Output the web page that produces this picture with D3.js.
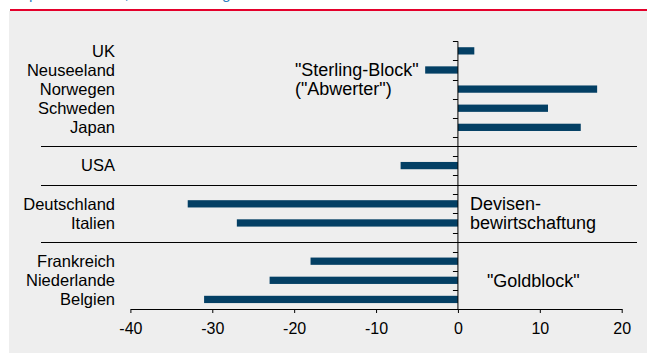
<!DOCTYPE html>
<html>
<head>
<meta charset="utf-8">
<script src="https://cdn.jsdelivr.net/npm/d3@7"></script>
<style>
  body { margin: 0; background: #fff; }
  text { font-family: "Liberation Sans", Arial, sans-serif; }
</style>
</head>
<body>
<div id="chart"></div>
<script>
// Categories (gapN entries are the empty rows between the groups)
var countries = ["UK", "Neuseeland", "Norwegen", "Schweden", "Japan", "gap1",
  "USA", "gap2", "Deutschland", "Italien", "gap3", "Frankreich", "Niederlande", "Belgien"];
var values = [2, -4, 17, 11, 15, null, -7, null, -33, -27, null, -18, -23, -31];
var gaps = ["gap1", "gap2", "gap3"];
var xTicks = [-40, -30, -20, -10, 0, 10, 20];

var svgWidth = 647;
var svgHeight = 353;

var svg = d3.select("#chart")
  .append("svg")
  .attr("width", svgWidth)
  .attr("height", svgHeight);

// grey panel + red rule on top
svg.append("rect")
  .attr("x", 9).attr("y", 11)
  .attr("width", svgWidth - 9).attr("height", svgHeight - 11)
  .attr("fill", "#eeeeee");

svg.append("rect")
  .attr("x", 10).attr("y", 9)
  .attr("width", svgWidth - 10).attr("height", 2)
  .attr("fill", "#e4002b");

// title, mostly cut off at the top edge (as in the original)
svg.append("text")
  .attr("x", 10).attr("y", -1.5)
  .attr("font-size", 15.5)
  .attr("fill", "#2f7fc1")
  .text("Kapitalkontrollen, Kursänderung 1929–1936 in %");

var xScale = d3.scaleLinear()
  .domain([-40, 20])
  .range([130.4, 621.7]);

var yScale = d3.scaleBand()
  .domain(countries)
  .range([41.3, 309])
  .paddingInner(0.62)
  .paddingOuter(0.31);

var band = (yScale.range()[1] - yScale.range()[0]) / countries.length;
function center(c) { return yScale(c) + yScale.bandwidth() / 2; }

var data = countries.map(function (c, i) { return { name: c, value: values[i] }; });

// group separators
svg.selectAll(".sep")
  .data(gaps)
  .enter()
  .append("line")
  .attr("x1", 41).attr("x2", 637)
  .attr("y1", function (d) { return Math.round(center(d)) + 0.5; })
  .attr("y2", function (d) { return Math.round(center(d)) + 0.5; })
  .attr("stroke", "#000")
  .attr("stroke-width", 1.2);

// bars
svg.selectAll(".bar")
  .data(data.filter(function (d) { return d.value !== null; }))
  .enter()
  .append("rect")
  .attr("x", function (d) { return xScale(Math.min(0, d.value)); })
  .attr("y", function (d) { return yScale(d.name); })
  .attr("width", function (d) { return Math.abs(xScale(d.value) - xScale(0)); })
  .attr("height", yScale.bandwidth())
  .attr("fill", "#033f64");

// x axis
var xAxis = svg.append("g")
  .attr("transform", "translate(0,309)")
  .call(d3.axisBottom(xScale)
    .tickValues(xTicks)
    .tickFormat(function (d) { return String(d); })
    .tickSize(4).tickPadding(10).tickSizeOuter(0));
xAxis.select(".domain").attr("stroke", "#000");
xAxis.selectAll("line").attr("stroke", "#000");
xAxis.selectAll("text")
  .attr("font-size", 16)
  .attr("font-family", "Liberation Sans, Arial, sans-serif")
  .attr("fill", "#000");

// y axis line at zero with ticks between categories
var yTop = yScale.range()[0];
svg.append("line")
  .attr("x1", xScale(0)).attr("x2", xScale(0))
  .attr("y1", yTop).attr("y2", 309)
  .attr("stroke", "#000");

svg.selectAll(".ytick")
  .data(d3.range(countries.length))
  .enter()
  .append("line")
  .attr("x1", xScale(0) - 5).attr("x2", xScale(0))
  .attr("y1", function (i) { return Math.round(yTop + i * band) + 0.5; })
  .attr("y2", function (i) { return Math.round(yTop + i * band) + 0.5; })
  .attr("stroke", "#000");

// category labels
svg.selectAll(".ylabel")
  .data(countries.filter(function (c) { return gaps.indexOf(c) < 0; }))
  .enter()
  .append("text")
  .attr("x", 115)
  .attr("y", function (d) { return center(d); })
  .attr("dy", "0.35em")
  .attr("text-anchor", "end")
  .attr("font-size", 16.5)
  .attr("fill", "#000")
  .text(function (d) { return d; });

// group annotations
var notes = [
  { text: "\"Sterling-Block\"", at: "Neuseeland", dx: -163 },
  { text: "(\"Abwerter\")", at: "Norwegen", dx: -163 },
  { text: "Devisen-", at: "Deutschland", dx: 12 },
  { text: "bewirtschaftung", at: "Italien", dx: 12 },
  { text: "\"Goldblock\"", at: "Niederlande", dx: 29 }
];

svg.selectAll(".note")
  .data(notes)
  .enter()
  .append("text")
  .attr("x", function (d) { return xScale(0) + d.dx; })
  .attr("y", function (d) { return center(d.at); })
  .attr("dy", "0.35em")
  .attr("font-size", 18)
  .attr("fill", "#000")
  .text(function (d) { return d.text; });
</script>
</body>
</html>
